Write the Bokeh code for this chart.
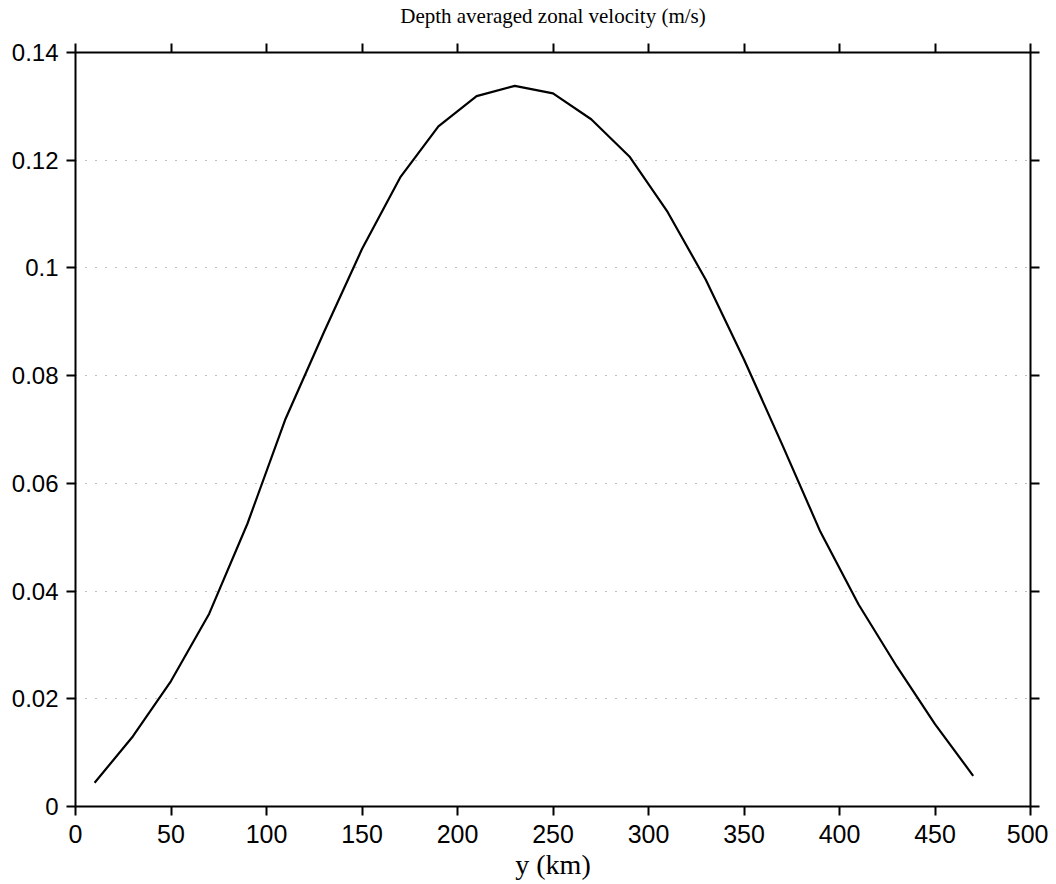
from bokeh.plotting import figure
from bokeh.models import LinearAxis, FixedTicker, Grid, CustomLabelingPolicy
from bokeh.embed import file_html
from bokeh.resources import INLINE

# Data
y_km = [10, 30, 50, 70, 90, 110, 130, 150, 170, 190, 210, 230,
        250, 270, 290, 310, 330, 350, 370, 390, 410, 430, 450, 470]
u_vel = [0.0044, 0.0130, 0.0233, 0.0358, 0.0525, 0.0720, 0.0880, 0.1035,
         0.1168, 0.1263, 0.1319, 0.1338, 0.1324, 0.1276, 0.1207, 0.1104,
         0.0978, 0.0830, 0.0672, 0.0510, 0.0375, 0.0260, 0.0153, 0.0057]

x_ticks = [0, 50, 100, 150, 200, 250, 300, 350, 400, 450, 500]
x_tick_labels = ["0", "50", "100", "150", "200", "250", "300", "350", "400", "450", "500"]
y_ticks = [0, 0.02, 0.04, 0.06, 0.08, 0.1, 0.12, 0.14]
y_tick_labels = ["0", "0.02", "0.04", "0.06", "0.08", "0.1", "0.12", "0.14"]
grid_levels = [0.02, 0.04, 0.06, 0.08, 0.1, 0.12]

title_text = "Depth averaged zonal velocity (m/s)"
xlabel_text = "y (km)"

SANS = "Liberation Sans"
SERIF = "Liberation Serif"

p = figure(width=1048, height=884, x_range=(0, 500), y_range=(0, 0.14),
           output_backend="svg", toolbar_location=None,
           x_axis_location=None, y_axis_location=None,
           min_border_left=75, min_border_right=18,
           min_border_top=48, min_border_bottom=78)
p.outline_line_color = None
p.background_fill_color = "white"
p.border_fill_color = "white"


def style_axis(ax, size="24px", labels=True):
    ax.major_tick_out = 9
    ax.major_tick_in = 0
    ax.minor_tick_out = 0
    ax.minor_tick_in = 0
    ax.major_tick_line_width = 2
    ax.major_tick_line_color = "black"
    ax.axis_line_width = 2
    ax.axis_line_color = "black"
    ax.major_label_text_font = SANS
    ax.major_label_text_color = "black"
    ax.major_label_text_font_size = size
    if not labels:
        ax.major_label_standoff = 0
        ax.major_label_text_font_size = "2px"
        ax.major_label_policy = CustomLabelingPolicy(code="return new Set()")


xb = LinearAxis(ticker=FixedTicker(ticks=x_ticks),
                major_label_overrides={t: l for t, l in zip(x_ticks, x_tick_labels)})
style_axis(xb, size="25px")
xb.major_label_standoff = 9
xb.axis_label = xlabel_text
xb.axis_label_text_font = SERIF
xb.axis_label_text_font_style = "normal"
xb.axis_label_text_font_size = "28px"
xb.axis_label_standoff = 3
xb.axis_label_text_color = "black"
p.add_layout(xb, "below")

xt = LinearAxis(ticker=FixedTicker(ticks=x_ticks))
style_axis(xt, labels=False)
xt.axis_label = title_text
xt.axis_label_text_font = SERIF
xt.axis_label_text_font_style = "normal"
xt.axis_label_text_font_size = "21px"
xt.axis_label_standoff = 12
xt.axis_label_text_color = "black"
p.add_layout(xt, "above")

yl = LinearAxis(ticker=FixedTicker(ticks=y_ticks),
                major_label_overrides={t: l for t, l in zip(y_ticks, y_tick_labels)})
style_axis(yl, size="24px")
yl.major_label_standoff = 8
p.add_layout(yl, "left")

yr = LinearAxis(ticker=FixedTicker(ticks=y_ticks))
style_axis(yr, labels=False)
p.add_layout(yr, "right")

p.xgrid.grid_line_color = None
p.ygrid.grid_line_color = None

g = Grid(dimension=1, ticker=FixedTicker(ticks=grid_levels),
         grid_line_color="black", grid_line_alpha=0.5,
         grid_line_width=1, grid_line_dash="1 9")
p.add_layout(g)

p.line(y_km, u_vel, line_color="black", line_width=2.2)

open("out.html", "w").write(file_html(p, INLINE))
